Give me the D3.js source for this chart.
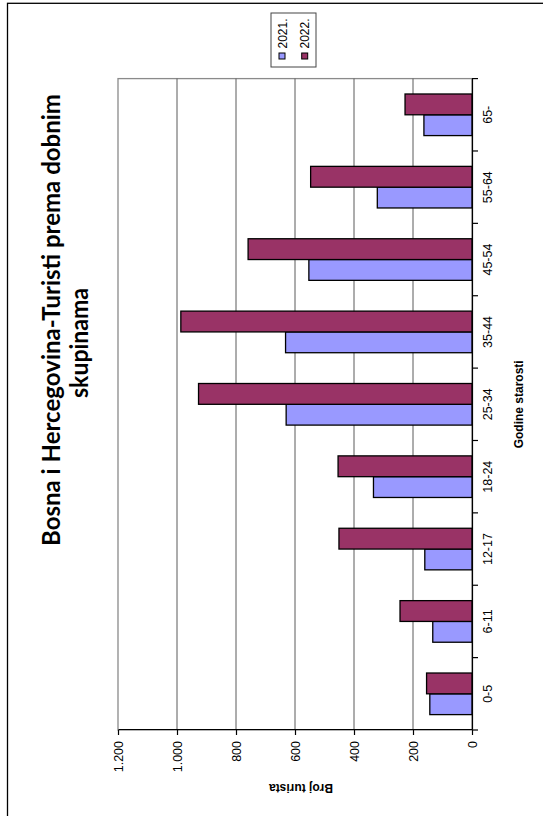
<!DOCTYPE html>
<html>
<head>
<meta charset="utf-8">
<script src="https://cdn.jsdelivr.net/npm/d3@7"></script>
<style>
  html, body { margin: 0; padding: 0; background: #fff; }
  svg { display: block; }
</style>
</head>
<body>
<svg id="chart" width="543" height="816"></svg>
<script>
// ---- data ----
const categories = ["0-5", "6-11", "12-17", "18-24", "25-34", "35-44", "45-54", "55-64", "65-"];
const seriesNames = ["2021.", "2022."];
const values2021 = [143, 133, 160, 334, 630, 632, 553, 321, 163];
const values2022 = [154, 244, 451, 454, 927, 987, 759, 547, 227];
const valueTicks = [0, 200, 400, 600, 800, 1000, 1200];
const titleLines = ["Bosna i Hercegovina-Turisti prema dobnim", "skupinama"];
const xTitle = "Godine starosti";
const yTitle = "Broj turista";
const colors = ["#9999FF", "#993366"];

// ---- layout (drawn in an unrotated frame, then rotated -90deg) ----
const W = 816, H = 543;
const ARIAL = "'Liberation Sans', Arial, sans-serif";
const svg = d3.select("#chart");
const g = svg.append("g").attr("transform", `translate(0,${W}) rotate(-90)`);

const plot = { left: 86, right: 737.4, top: 118, bottom: 472 };

const x0 = d3.scaleBand().domain(categories).range([plot.left, plot.right]).paddingInner(0).paddingOuter(0);
const x1 = d3.scaleBand().domain(seriesNames).range([0, x0.bandwidth()]).paddingInner(0).paddingOuter(0.74);
const y = d3.scaleLinear().domain([0, 1200]).range([plot.bottom, plot.top]);

const loc = d3.formatLocale({ decimal: ",", thousands: ".", grouping: [3], currency: ["", ""] });
const fmt = loc.format(",");

// chart border
g.append("rect").attr("x", -20).attr("y", 7.5).attr("width", 812.7 + 20).attr("height", 600)
  .attr("fill", "none").attr("stroke", "#000").attr("stroke-width", 1.3);

// plot area border (gray)
g.append("rect").attr("x", plot.left).attr("y", plot.top)
  .attr("width", plot.right - plot.left).attr("height", plot.bottom - plot.top)
  .attr("fill", "#fff").attr("stroke", "#8a8a8a").attr("stroke-width", 1.3);

// gridlines
g.append("g").selectAll("line").data(valueTicks.filter(v => v > 0 && v < 1200)).join("line")
  .attr("x1", plot.left).attr("x2", plot.right)
  .attr("y1", d => y(d)).attr("y2", d => y(d))
  .attr("stroke", "#5a5a5a").attr("stroke-width", 1);

// bars
const series = [values2021, values2022];
const groups = g.append("g").selectAll("g").data(categories).join("g")
  .attr("transform", d => `translate(${x0(d)},0)`);
groups.selectAll("rect").data((d, i) => seriesNames.map((s, k) => ({ s, k, v: series[k][i] }))).join("rect")
  .attr("x", d => x1(d.s)).attr("width", x1.bandwidth())
  .attr("y", d => y(d.v)).attr("height", d => y(0) - y(d.v))
  .attr("fill", d => colors[d.k]).attr("stroke", "#000").attr("stroke-width", 1.3);

// value axis
const yAxis = g.append("g").attr("transform", `translate(${plot.left},0)`)
  .call(d3.axisLeft(y).tickValues(valueTicks).tickFormat(fmt).tickSize(5).tickSizeOuter(0).tickPadding(6));
yAxis.select(".domain").attr("stroke", "#000").attr("stroke-width", 1.2);
yAxis.selectAll(".tick line").attr("stroke", "#000").attr("stroke-width", 1.2);
yAxis.selectAll("text").style("font-size", "12.5px").attr("fill", "#000").style("font-family", ARIAL);

// category axis
const xAxis = g.append("g").attr("transform", `translate(0,${plot.bottom})`)
  .call(d3.axisBottom(x0).tickSize(0).tickSizeOuter(0).tickPadding(11));
xAxis.select(".domain").attr("stroke", "#000").attr("stroke-width", 1.2);
xAxis.selectAll("text").style("font-size", "12.5px").attr("fill", "#000").style("font-family", ARIAL);
// boundary tick marks
const bounds = categories.map(c => x0(c)).concat([x0(categories[categories.length - 1]) + x0.bandwidth()]);
g.append("g").selectAll("line").data(bounds).join("line")
  .attr("x1", d => d).attr("x2", d => d)
  .attr("y1", plot.bottom).attr("y2", plot.bottom + 6)
  .attr("stroke", "#000").attr("stroke-width", 1.2);

// axis titles
g.append("text").attr("x", (plot.left + plot.right) / 2).attr("y", 523)
  .attr("text-anchor", "middle").style("font-size", "12px").style("font-weight", "bold")
  .style("font-family", ARIAL).text(xTitle);
g.append("text").attr("transform", `translate(32.5,301) rotate(-90)`)
  .attr("text-anchor", "middle").style("font-size", "12px").style("font-weight", "bold")
  .style("font-family", ARIAL).text(yTitle);

// title
const titleStyle = t => t.attr("text-anchor", "middle").style("font-size", "25px").style("font-weight", "bold")
  .style("font-family", "Lato, 'Open Sans', sans-serif").attr("fill", "#000");
g.append("text").attr("x", 496).attr("y", 59.5).call(titleStyle)
  .attr("textLength", 452).attr("lengthAdjust", "spacingAndGlyphs").text(titleLines[0]);
g.append("text").attr("x", 473).attr("y", 87.5).call(titleStyle)
  .attr("textLength", 110).attr("lengthAdjust", "spacingAndGlyphs").text(titleLines[1]);

// legend
const lg = g.append("g");
lg.append("rect").attr("x", 749).attr("y", 271).attr("width", 54).attr("height", 45)
  .attr("fill", "#fff").attr("stroke", "#444").attr("stroke-width", 1);
const rowY = [282, 304.7];
seriesNames.forEach((s, k) => {
  lg.append("rect").attr("x", 757).attr("y", rowY[k] - 3).attr("width", 6).attr("height", 6)
    .attr("fill", colors[k]).attr("stroke", "#000").attr("stroke-width", 1);
  lg.append("text").attr("x", 767.5).attr("y", rowY[k] + 4.5).style("font-size", "12px")
    .style("font-family", ARIAL).text(s);
});
</script>
</body>
</html>
